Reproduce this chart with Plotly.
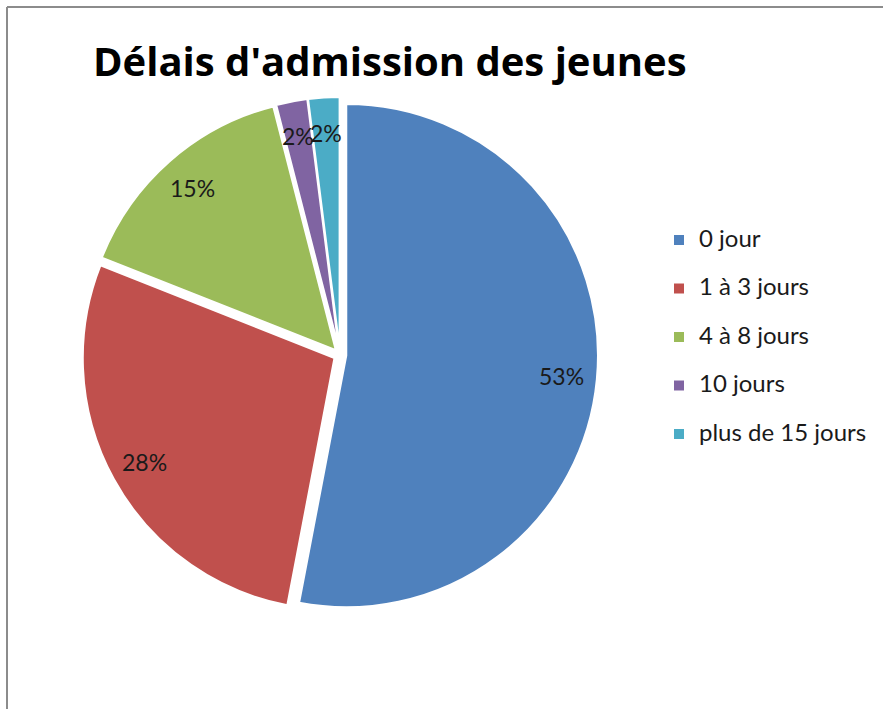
import math
import plotly.graph_objects as go

categories = ["0 jour", "1 à 3 jours", "4 à 8 jours", "10 jours", "plus de 15 jours"]
values = [53, 28, 15, 2, 2]
colors = ["#4F81BD", "#C0504D", "#9BBB59", "#8064A2", "#4BACC6"]

W, H = 883, 709
cx, cy, half = 340, 355, 258
pull = 0.025
r = half / (1 + pull)

fig = go.Figure(go.Pie(
    labels=[f"<span style='font-size:24px'>{c}</span><br> " for c in categories],
    values=values,
    sort=False,
    direction="clockwise",
    rotation=0,
    pull=[pull] * len(values),
    marker=dict(colors=colors, line=dict(color="white", width=2)),
    textinfo="none",
    domain=dict(x=[(cx - half) / W, (cx + half) / W],
                y=[(H - cy - half) / H, (H - cy + half) / H]),
    hoverinfo="label+percent",
))

# percentage labels placed along each slice's mid-angle (computed from the values)
total = sum(values)
annotations = []
cum = 0
for v in values:
    mid = (cum + v / 2) / total * 2 * math.pi
    cum += v
    d = r * (0.86 + pull)
    px = cx + d * math.sin(mid)
    py = cy - d * math.cos(mid)
    annotations.append(dict(
        x=px / W, y=1 - py / H, xref="paper", yref="paper",
        xanchor="center", yanchor="middle",
        text=f"{v / total:.0%}", showarrow=False,
        font=dict(family="Lato, sans-serif", size=23, color="#1a1a1a"),
    ))

fig.update_layout(
    width=W, height=H,
    margin=dict(l=0, r=0, t=0, b=0),
    paper_bgcolor="white",
    title=dict(text="<b>Délais d'admission des jeunes</b>", x=93 / W, xanchor="left",
               y=1 - 62 / H, yanchor="middle",
               font=dict(family="Open Sans, sans-serif", size=40, color="black")),
    annotations=annotations,
    legend=dict(x=659 / W, xanchor="left", y=1 - 222 / H, yanchor="top",
                font=dict(family="Lato, sans-serif", size=17.5, color="#1a1a1a"),
                valign="top", itemwidth=30),
    shapes=[
        dict(type="line", xref="paper", yref="paper", x0=7 / W, x1=7 / W, y0=0, y1=1 - 7 / H,
             line=dict(color="#8c8c8c", width=2)),
        dict(type="line", xref="paper", yref="paper", x0=7 / W, x1=1, y0=1 - 7 / H, y1=1 - 7 / H,
             line=dict(color="#8c8c8c", width=2)),
    ],
)

fig.write_html("out.html", config={"displayModeBar": False},
               post_script="document.body.style.margin='0';")
